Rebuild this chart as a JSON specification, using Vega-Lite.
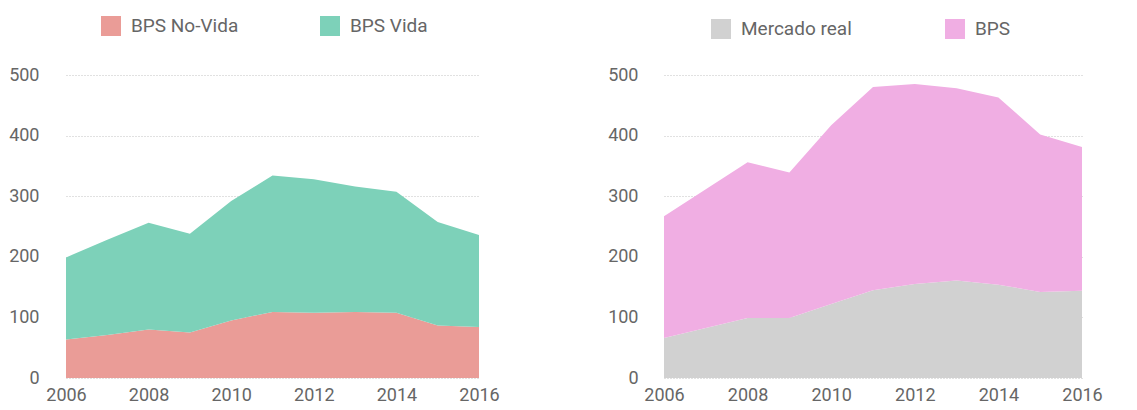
{
  "$schema": "https://vega.github.io/schema/vega-lite/v6.json",
  "padding": {"left": 8, "top": 16, "right": 5, "bottom": 3},
  "background": "white",
  "datasets": {
    "left": [
      {"year": 2006, "serie": "BPS No-Vida", "value": 63.5},
      {"year": 2007, "serie": "BPS No-Vida", "value": 71},
      {"year": 2008, "serie": "BPS No-Vida", "value": 80},
      {"year": 2009, "serie": "BPS No-Vida", "value": 75},
      {"year": 2010, "serie": "BPS No-Vida", "value": 95},
      {"year": 2011, "serie": "BPS No-Vida", "value": 109},
      {"year": 2012, "serie": "BPS No-Vida", "value": 107.5},
      {"year": 2013, "serie": "BPS No-Vida", "value": 109},
      {"year": 2014, "serie": "BPS No-Vida", "value": 107.5},
      {"year": 2015, "serie": "BPS No-Vida", "value": 86.6},
      {"year": 2016, "serie": "BPS No-Vida", "value": 84},
      {"year": 2006, "serie": "BPS Vida", "value": 135.5},
      {"year": 2007, "serie": "BPS Vida", "value": 157},
      {"year": 2008, "serie": "BPS Vida", "value": 176},
      {"year": 2009, "serie": "BPS Vida", "value": 163},
      {"year": 2010, "serie": "BPS Vida", "value": 197},
      {"year": 2011, "serie": "BPS Vida", "value": 225},
      {"year": 2012, "serie": "BPS Vida", "value": 220.5},
      {"year": 2013, "serie": "BPS Vida", "value": 207},
      {"year": 2014, "serie": "BPS Vida", "value": 200},
      {"year": 2015, "serie": "BPS Vida", "value": 171},
      {"year": 2016, "serie": "BPS Vida", "value": 152}
    ],
    "right": [
      {"year": 2006, "serie": "Mercado real", "value": 66},
      {"year": 2007, "serie": "Mercado real", "value": 82.6},
      {"year": 2008, "serie": "Mercado real", "value": 99},
      {"year": 2009, "serie": "Mercado real", "value": 99},
      {"year": 2010, "serie": "Mercado real", "value": 122},
      {"year": 2011, "serie": "Mercado real", "value": 145},
      {"year": 2012, "serie": "Mercado real", "value": 155},
      {"year": 2013, "serie": "Mercado real", "value": 161},
      {"year": 2014, "serie": "Mercado real", "value": 154},
      {"year": 2015, "serie": "Mercado real", "value": 142},
      {"year": 2016, "serie": "Mercado real", "value": 144},
      {"year": 2006, "serie": "BPS", "value": 201},
      {"year": 2007, "serie": "BPS", "value": 229},
      {"year": 2008, "serie": "BPS", "value": 257},
      {"year": 2009, "serie": "BPS", "value": 240},
      {"year": 2010, "serie": "BPS", "value": 295},
      {"year": 2011, "serie": "BPS", "value": 335},
      {"year": 2012, "serie": "BPS", "value": 330},
      {"year": 2013, "serie": "BPS", "value": 317},
      {"year": 2014, "serie": "BPS", "value": 309},
      {"year": 2015, "serie": "BPS", "value": 260},
      {"year": 2016, "serie": "BPS", "value": 237}
    ]
  },
  "config": {
    "view": {"stroke": null},
    "font": "Roboto",
    "axis": {
      "labelFont": "Roboto",
      "labelFontSize": 18,
      "labelColor": "#666666",
      "domain": false,
      "ticks": false,
      "tickSize": 0,
      "title": null,
      "gridColor": "#999999",
      "gridOpacity": 0.6,
      "gridDash": [1, 2],
      "gridWidth": 1,
      "zindex": 1
    },
    "legend": {
      "labelFont": "Roboto",
      "labelFontSize": 19,
      "labelColor": "#666666",
      "symbolType": "square",
      "symbolSize": 400,
      "symbolStrokeWidth": 0,
      "labelOffset": 10,
      "title": null,
      "direction": "horizontal",
      "orient": "none"
    }
  },
  "spacing": 107,
  "resolve": {"scale": {"color": "independent"}, "legend": {"color": "independent"}},
  "hconcat": [
    {
      "width": 413,
      "height": 303,
      "data": {"name": "left"},
      "mark": {"type": "area", "opacity": 1},
      "encoding": {
        "x": {"field": "year", "type": "quantitative",
              "scale": {"domain": [2006, 2016], "nice": false, "zero": false},
              "axis": {"values": [2006, 2008, 2010, 2012, 2014, 2016], "format": "d", "grid": false, "labelPadding": 8, "labelFlush": false}},
        "y": {"field": "value", "type": "quantitative", "stack": "zero",
              "scale": {"domain": [0, 500], "nice": false},
              "axis": {"values": [0, 100, 200, 300, 400, 500], "labelPadding": 27, "grid": true}},
        "color": {"field": "serie", "type": "nominal",
                  "sort": ["BPS No-Vida", "BPS Vida"],
                  "scale": {"domain": ["BPS No-Vida", "BPS Vida"], "range": ["#EA9C97", "#7DD1B9"]},
                  "legend": {"legendX": 35, "legendY": -59, "columnPadding": 81}},
        "order": {"field": "serie", "sort": "ascending"}
      }
    },
    {
      "width": 418,
      "height": 303,
      "data": {"name": "right"},
      "mark": {"type": "area", "opacity": 1},
      "encoding": {
        "x": {"field": "year", "type": "quantitative",
              "scale": {"domain": [2006, 2016], "nice": false, "zero": false},
              "axis": {"values": [2006, 2008, 2010, 2012, 2014, 2016], "format": "d", "grid": false, "labelPadding": 8, "labelFlush": false}},
        "y": {"field": "value", "type": "quantitative", "stack": "zero",
              "scale": {"domain": [0, 500], "nice": false},
              "axis": {"values": [0, 100, 200, 300, 400, 500], "labelPadding": 26, "grid": true}},
        "color": {"field": "serie", "type": "nominal",
                  "sort": ["Mercado real", "BPS"],
                  "scale": {"domain": ["Mercado real", "BPS"], "range": ["#D1D1D1", "#F0AEE3"]},
                  "legend": {"legendX": 47, "legendY": -56, "columnPadding": 93}},
        "order": {"field": "serie", "sort": "descending"}
      }
    }
  ]
}
